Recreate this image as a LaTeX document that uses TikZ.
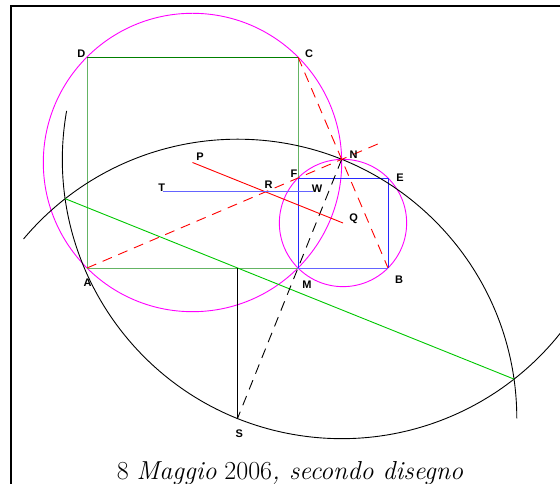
\documentclass[tikz,border=0pt]{standalone}
\usepackage{fontspec}
\newfontfamily\lblfont{Liberation Sans}
\begin{document}
\begin{tikzpicture}[x=1pt,y=1pt,
  thinln/.style={line width=0.9pt},
  sqdark/.style={thinln,draw={rgb,255:red,0;green,128;blue,0}},
  sqlight/.style={thinln,draw={rgb,255:red,100;green,180;blue,100}},
  bluedark/.style={thinln,draw={rgb,255:red,40;green,40;blue,255}},
  bluelight/.style={thinln,draw={rgb,255:red,100;green,100;blue,255}},
  circ/.style={thinln,draw={rgb,255:red,255;green,0;blue,255}},
  reddash/.style={thinln,draw=red,dash pattern=on 10pt off 7pt},
  redline/.style={thinln,draw=red},
  blackdash/.style={thinln,draw=black,dash pattern=on 10pt off 7pt},
  arcln/.style={thinln,draw=black},
  bisect/.style={thinln,draw={rgb,255:red,0;green,200;blue,0}},
  lbl/.style={font=\lblfont\bfseries\fontsize{11}{13}\selectfont,inner sep=0pt}]
\useasboundingbox (0,0) rectangle (560,484);
\clip (0,0) rectangle (560,484);
\fill[white] (0,0) rectangle (560,484);
% frame
\draw[line width=2.8pt] (11,-10) -- (11,478) -- (575,478);
% points
\coordinate (A) at (87,216);
\coordinate (M) at (298,216);
\coordinate (C) at (298,427);
\coordinate (D) at (87,427);
\coordinate (B) at (388,216);
\coordinate (E) at (388,306);
\coordinate (F) at (298,306);
\coordinate (P) at (192.5,321.5);
\coordinate (Q) at (343,261);
\coordinate (N) at (341.67,324.63);
\coordinate (S) at (237.5,65.5);
\coordinate (G) at (237.5,216);
\coordinate (R) at (265.5,292.1);
\coordinate (T) at (162.5,292.1);
\coordinate (W) at (312.5,292.1);
\coordinate (X1) at (65.2,285.3);
\coordinate (X2) at (514.0,104.9);
\coordinate (Nend) at (382,341.8);
% circles
\draw[circ] (P) circle[radius=149.2];
\draw[circ] (Q) circle[radius=63.64];
% big square
\draw[sqlight] (D) -- (A) -- (M) -- (C);
\draw[sqdark] (D) -- (C);
% small square
\draw[bluelight] (M) -- (B);
\draw[bluedark] (M) -- (F) -- (E) -- (B);
% arcs
\draw[arcln] ([shift={(0:279.3)}]S) arc[start angle=0,end angle=140,radius=279.3];
\draw[arcln] ([shift={(170:279.3)}]N) arc[start angle=170,end angle=330,radius=279.3];
% lines
\draw[bisect] (X1) -- (X2);
\draw[arcln] (G) -- (S);
\draw[blackdash] (N) -- (S);
\draw[reddash] (A) -- (Nend);
\draw[reddash] (C) -- (B);
\draw[redline] (P) -- (Q);
\draw[bluelight] (T) -- (W);
% labels
\node[lbl] (lD) at (81.4,430.7) {D};
\node[lbl] (lC) at (309,430.7) {C};
\node[lbl] (lN) at (353.6,329.7) {N};
\node[lbl] (lE) at (400,306.7) {E};
\node[lbl] (lF) at (294,310) {F};
\node[lbl] (lW) at (317,295.7) {W};
\node[lbl] (lT) at (161.8,296.3) {T};
\node[lbl] (lR) at (268.6,299.7) {R};
\node[lbl] (lP) at (200,327.3) {P};
\node[lbl] (lQ) at (353.6,265.7) {Q};
\node[lbl] (lA) at (87.5,201.3) {A};
\node[lbl] (lM) at (307,199.7) {M};
\node[lbl] (lB) at (399,204.7) {B};
\node[lbl] (lS) at (239.3,50.7) {S};
% caption
\node[anchor=base,inner sep=0pt,font=\fontsize{26}{30}\selectfont] (cap) at (290,4.5) {8 \textit{Maggio} 2006\textit{, secondo disegno}};
\end{tikzpicture}
\end{document}
